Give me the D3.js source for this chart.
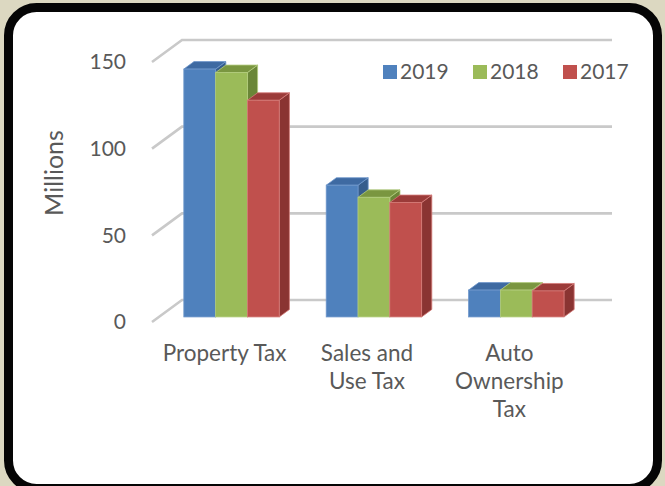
<!DOCTYPE html>
<html>
<head>
<meta charset="utf-8">
<script src="https://cdn.jsdelivr.net/npm/d3@7"></script>
<style>
  html, body { margin: 0; padding: 0; background: #dcd8c1; }
  svg { display: block; }
</style>
</head>
<body>
<svg id="chart" width="665" height="486"></svg>
<script>
// Tax revenue by source, in millions
const categories = [["Property Tax"], ["Sales and", "Use Tax"], ["Auto", "Ownership", "Tax"]];
const seriesNames = ["2019", "2018", "2017"];
const values2019 = [143, 76, 15.5];
const values2018 = [141, 69, 15.5];
const values2017 = [125, 66, 15];
const tickValues = [0, 50, 100, 150];

const seriesValues = [values2019, values2018, values2017];
const colors = [
  { front: "#4f81bd", top: "#3e6aa2", side: "#365d8c", edge: "#6f97cb" },
  { front: "#9bbb59", top: "#7a9640", side: "#6a8637", edge: "#b2cc7d" },
  { front: "#c0504d", top: "#9b3b39", side: "#8a3432", edge: "#d47a77" }
];

const svg = d3.select("#chart");
const font = "Lato, 'Open Sans', sans-serif";
const textColor = "#595959";

// frame
svg.append("rect")
  .attr("x", 8.5).attr("y", 7.5)
  .attr("width", 649).attr("height", 481)
  .attr("rx", 28).attr("ry", 28)
  .attr("fill", "#ffffff")
  .attr("stroke", "#050505")
  .attr("stroke-width", 9);

// front plane geometry and depth offsets
const x0 = 152, x1 = 582;
const depthX = 30, depthY = -22;           // front plane -> back wall
const barFrontShift = 0.23;                // bars sit a little behind the front plane
const barDepth = 0.34;                     // fraction of the full depth taken by a bar

const y = d3.scaleLinear().domain([0, 150]).range([322, 62]);

const xCat = d3.scaleBand().domain(d3.range(categories.length))
  .range([x0, x1]).paddingInner(0.33).paddingOuter(0.175);
const xSeries = d3.scaleBand().domain(d3.range(seriesNames.length))
  .range([0, xCat.bandwidth()]);

// gridlines: diagonal on the side wall, then along the back wall
const grid = svg.append("g");
tickValues.forEach(t => {
  const yf = y(t);
  grid.append("path")
    .attr("d", `M${x0},${yf} L${x0 + depthX},${yf + depthY} L${x1 + depthX},${yf + depthY}`)
    .attr("fill", "none")
    .attr("stroke", "#c9c9c9")
    .attr("stroke-width", 2.6);
});

// y-axis tick labels
svg.append("g").selectAll("text").data(tickValues).join("text")
  .attr("x", 126)
  .attr("y", d => y(d))
  .attr("dy", "0.35em")
  .attr("text-anchor", "end")
  .attr("font-family", font)
  .attr("font-size", 21)
  .attr("fill", textColor)
  .text(d => d);

// axis title
svg.append("text")
  .attr("transform", "translate(63,173) rotate(-90)")
  .attr("text-anchor", "middle")
  .attr("font-family", font)
  .attr("font-size", 25)
  .attr("fill", textColor)
  .text("Millions");

// 3D bars, drawn left to right so each bar covers its left neighbour's side face
const fx = barFrontShift * depthX, fy = barFrontShift * depthY;
const dx = barDepth * depthX, dy = barDepth * depthY;
const bars = svg.append("g");
categories.forEach((c, ci) => {
  seriesNames.forEach((name, si) => {
    const v = seriesValues[si][ci];
    const left = xCat(ci) + xSeries(si) + fx;
    const right = left + xSeries.bandwidth();
    const top = y(v) + fy;
    const bottom = y(0) + fy;
    const col = colors[si];
    const g = bars.append("g");
    // side face
    g.append("path")
      .attr("d", `M${right},${bottom} L${right + dx},${bottom + dy} L${right + dx},${top + dy} L${right},${top} Z`)
      .attr("fill", col.side).attr("stroke", col.edge).attr("stroke-width", 0.8);
    // top face
    g.append("path")
      .attr("d", `M${left},${top} L${left + dx},${top + dy} L${right + dx},${top + dy} L${right},${top} Z`)
      .attr("fill", col.top).attr("stroke", col.edge).attr("stroke-width", 0.8);
    // front face
    g.append("rect")
      .attr("x", left).attr("y", top)
      .attr("width", right - left).attr("height", bottom - top)
      .attr("fill", col.front).attr("stroke", col.edge).attr("stroke-width", 0.8);
  });
});

// category labels
const catLabels = svg.append("g");
categories.forEach((lines, ci) => {
  const cx = xCat(ci) + xCat.bandwidth() / 2;
  const t = catLabels.append("text")
    .attr("x", cx)
    .attr("y", 353)
    .attr("text-anchor", "middle")
    .attr("font-family", font)
    .attr("font-size", 22.5)
    .attr("fill", textColor);
  lines.forEach((line, li) => {
    t.append("tspan")
      .attr("x", cx)
      .attr("dy", li === 0 ? "0.35em" : "1.25em")
      .text(line);
  });
});

// legend
const legendX = [383, 473, 563];
const legend = svg.append("g");
seriesNames.forEach((name, i) => {
  legend.append("rect")
    .attr("x", legendX[i]).attr("y", 65)
    .attr("width", 14).attr("height", 14)
    .attr("fill", colors[i].front);
  legend.append("text")
    .attr("x", legendX[i] + 17).attr("y", 72)
    .attr("dy", "0.35em")
    .attr("font-family", font)
    .attr("font-size", 21)
    .attr("fill", textColor)
    .text(name);
});
</script>
</body>
</html>
